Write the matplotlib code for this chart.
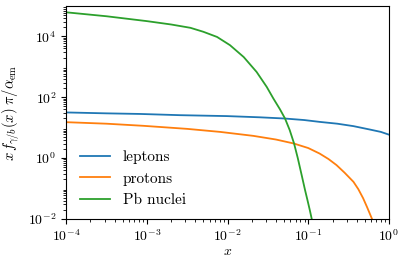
import matplotlib
matplotlib.use("Agg")
import matplotlib.pyplot as plt
import numpy as np

plt.rcParams['font.family'] = 'serif'
plt.rcParams['font.serif'] = ['cmr10']
plt.rcParams['mathtext.fontset'] = 'cm'
plt.rcParams['axes.formatter.use_mathtext'] = True

# values (log10 x, log10 y)
lep_lx = [-4.0, -3.5, -3.08, -2.59, -2.01, -1.6, -1.29, -1.05, -0.86, -0.64, -0.44, -0.24, -0.1, 0.0]
lep_ly = [1.50, 1.47, 1.45, 1.41, 1.38, 1.34, 1.30, 1.25, 1.19, 1.13, 1.05, 0.94, 0.86, 0.77]

pro_lx = [-4.0, -3.5, -3.04, -2.5, -2.09, -1.68, -1.4, -1.18, -1.0, -0.86, -0.75, -0.65, -0.55, -0.44, -0.38, -0.32, -0.27, -0.21]
pro_ly = [1.18, 1.13, 1.06, 0.96, 0.86, 0.73, 0.61, 0.48, 0.33, 0.15, -0.03, -0.23, -0.48, -0.78, -1.02, -1.32, -1.62, -2.0]

pb_lx = [-4.0, -3.5, -3.0, -2.7, -2.46, -2.30, -2.13, -1.97, -1.80, -1.64, -1.515, -1.433, -1.35, -1.288,
         -1.23, -1.176, -1.13, -1.08, -1.04, -1.01, -0.98, -0.957]
pb_ly = [4.79, 4.66, 4.50, 4.39, 4.28, 4.15, 3.98, 3.71, 3.32, 2.83, 2.34, 1.96, 1.60, 1.30,
         0.92, 0.48, 0.0, -0.58, -1.05, -1.38, -1.72, -2.0]

labels = ['leptons', 'protons', 'Pb nuclei']

fig = plt.figure(figsize=(4.01, 2.57), dpi=100)
ax = fig.add_axes([0.165, 0.148, 0.805, 0.829])

for lx, ly, lab in [(lep_lx, lep_ly, labels[0]), (pro_lx, pro_ly, labels[1]), (pb_lx, pb_ly, labels[2])]:
    ax.plot(10 ** np.array(lx), 10 ** np.array(ly), lw=1.3, label=lab)

ax.set_xscale('log')
ax.set_yscale('log')
ax.set_xlim(1e-4, 1)
ax.set_ylim(1e-2, 1e5)
ax.set_yticks([1e-2, 1, 1e2, 1e4])
ax.tick_params(labelsize=10)
ax.set_xlabel(r'$x$', fontsize=10, labelpad=1)
ax.set_ylabel(r'$x\,f_{\gamma/b}(x)\;\pi/\alpha_{\rm em}$', fontsize=10.5)
ax.legend(loc='lower left', frameon=False, fontsize=11, bbox_to_anchor=(0.0, -0.008))

fig.savefig('out.png', dpi=100)
